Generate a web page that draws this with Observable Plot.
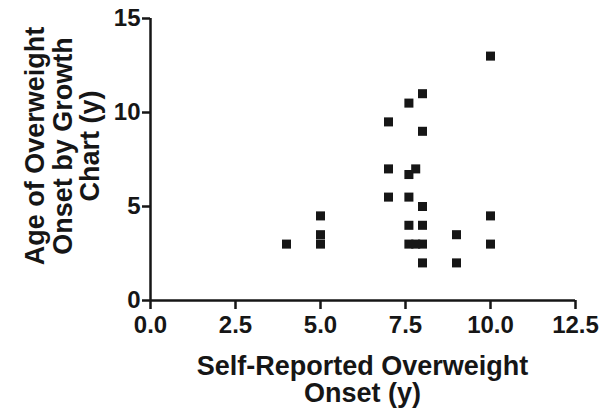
<!DOCTYPE html>
<html>
<head>
<meta charset="utf-8">
<script src="https://cdn.jsdelivr.net/npm/d3@7"></script>
<script src="https://cdn.jsdelivr.net/npm/@observablehq/plot@0.6"></script>
<style>
  html, body { margin: 0; padding: 0; background: #fff; }
</style>
</head>
<body>
<div id="chart"></div>
<script>
// Data
const selfReported = [4, 5, 5, 5, 7, 7, 7, 7.6, 7.6, 7.6, 7.6, 7.6, 7.8, 7.8, 8, 8, 8, 8, 8, 8, 9, 9, 10, 10, 10];
const growthChart  = [3, 4.5, 3.5, 3, 9.5, 7, 5.5, 10.5, 6.7, 5.5, 4, 3, 7, 3, 11, 9, 5, 4, 3, 2, 3.5, 2, 13, 4.5, 3];
const xTicks = [0, 2.5, 5, 7.5, 10, 12.5];
const yTicks = [0, 5, 10, 15];
const xTitleLines = ["Self-Reported Overweight", "Onset (y)"];
const yTitleLines = ["Age of Overweight", "Onset by Growth", "Chart (y)"];

const data = selfReported.map((x, i) => ({x, y: growthChart[i]}));
const ink = "#161616";
const font = "'Liberation Sans', Arial, Helvetica, sans-serif";

const chart = Plot.plot({
  width: 608,
  height: 413,
  marginLeft: 150,
  marginRight: 33,
  marginTop: 18,
  marginBottom: 113,
  style: {fontFamily: font, fontWeight: "bold", fontSize: "24px", color: ink, background: "#fff"},
  x: {domain: [0, 12.5]},
  y: {domain: [0, 15]},
  marks: [
    Plot.axisX({ticks: xTicks, tickFormat: d => d.toFixed(1), tickSize: 9, tickPadding: 6, label: null, strokeWidth: 2.5, fontSize: 24}),
    Plot.axisY({ticks: yTicks, tickSize: 8, tickPadding: 2, label: null, strokeWidth: 2.5, fontSize: 24}),
    Plot.ruleY([0], {stroke: ink, strokeWidth: 2.5}),
    Plot.ruleX([0], {stroke: ink, strokeWidth: 2.5}),
    Plot.dot(data, {x: "x", y: "y", symbol: "square", r: 5.1, fill: ink, stroke: "none"})
  ]
});

// Axis titles (multi-line), placed relative to the plot frame
const svg = d3.select(chart);
const cx = (150 + (608 - 33)) / 2;
const xt = svg.append("text")
  .attr("text-anchor", "middle")
  .attr("font-family", font).attr("font-weight", "bold").attr("font-size", 27)
  .attr("fill", ink);
xTitleLines.forEach((t, i) => xt.append("tspan").attr("x", cx).attr("y", 375 + i * 27).text(t));

const yt = svg.append("text")
  .attr("text-anchor", "middle")
  .attr("transform", "translate(0,146) rotate(-90)")
  .attr("font-family", font).attr("font-weight", "bold").attr("font-size", 27)
  .attr("fill", ink);
yTitleLines.forEach((t, i) => yt.append("tspan").attr("x", 0).attr("y", 44 + i * 27.5).text(t));

document.getElementById("chart").appendChild(chart);
</script>
</body>
</html>
